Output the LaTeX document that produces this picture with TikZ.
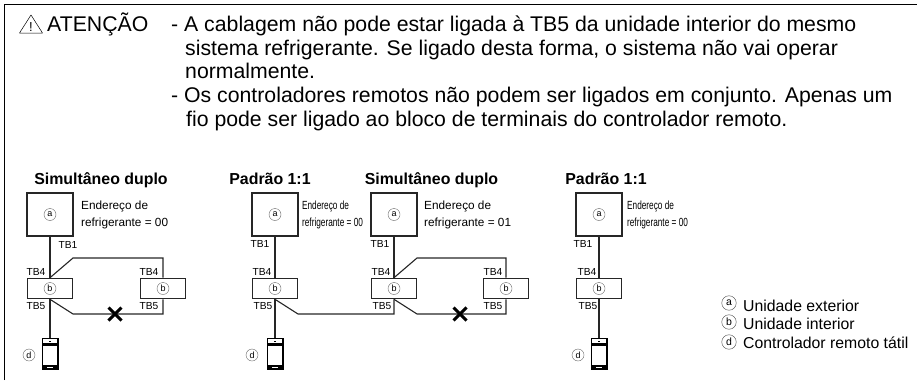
\documentclass[tikz,border=0pt]{standalone}
\usepackage{fontspec}
\setmainfont{Liberation Sans}
\usetikzlibrary{calc}
\tikzset{
  x=1pt,y=-1pt,
  wire/.style={line width=1.1pt,draw=black!85},
  frameline/.style={line width=1.8pt,draw=black},
  unitA/.style={draw=black!85,line width=1.1pt,minimum width=46pt,minimum height=43pt,inner sep=0pt},
  unitB/.style={draw=black!85,line width=1.1pt,minimum width=45pt,minimum height=20.5pt,inner sep=0pt},
  mark circ/.style={circle,draw=black!60,line width=0.4pt,minimum size=12pt,inner sep=0pt,font=\fontsize{9}{9}\selectfont},
  leg circ/.style={circle,draw=black!70,line width=0.45pt,minimum size=14.5pt,inner sep=0pt,font=\fontsize{10.5}{10.5}\selectfont},
  body/.style={anchor=base west,inner sep=0pt,font=\fontsize{21.25}{21.25}\selectfont},
  head/.style={anchor=base,inner sep=0pt,font=\fontsize{15.9}{15.9}\selectfont\bfseries},
  note/.style={anchor=base west,inner sep=0pt,font=\fontsize{11.8}{11.8}\selectfont},
  tb/.style={anchor=base,inner sep=0pt,font=\fontsize{10.2}{10.2}\selectfont},
  legend/.style={anchor=base west,inner sep=0pt,font=\fontsize{15.8}{15.8}\selectfont},
  phonebody/.style={draw=none,fill=black,minimum width=17pt,minimum height=32pt,inner sep=0pt},
  crossmark/.style={line width=3pt,draw=black},
}
\newcommand{\rphone}[2]{%
  \node[phonebody] (#1) at (#2) {};
  \fill[white] ($(#1.north west)+(1.6,1.6)$) rectangle ($(#1.north east)+(-1.6,5.6)$);
  \fill[black] ($(#1.north)+(-1,2.8)$) rectangle ($(#1.north)+(1,4.6)$);
  \fill[white] ($(#1.north west)+(1.6,8)$) rectangle ($(#1.south east)+(-1.6,-5.5)$);
  \fill[white] ($(#1.south)+(-3,-3.4)$) rectangle ($(#1.south)+(3,-2.2)$);
}
\newcommand{\xmark}[2]{%
  \coordinate (#1) at (#2);
  \draw[crossmark] ($(#1)+(-6.5,-6.5)$) -- ($(#1)+(6.5,6.5)$);
  \draw[crossmark] ($(#1)+(-6.5,6.5)$) -- ($(#1)+(6.5,-6.5)$);
}
\begin{document}
\begin{tikzpicture}
\useasboundingbox (0,0) rectangle (917,380);
\coordinate (fb) at (4.5,380);
\coordinate (fc) at (4.5,4.5);
\coordinate (fr) at (917,4.5);
\draw[frameline] (fb) -- (fc) -- (fr);
% warning
\coordinate (t1) at (19.5,33);
\coordinate (t2) at (42.5,33);
\coordinate (t3) at (31,15);
\draw[line width=0.5pt,line join=round] (t1) -- (t2) -- (t3) -- cycle;
\node[anchor=base,inner sep=0pt,font=\fontsize{13}{13}\selectfont] (tmark) at (31,31.5) {!};
\node[body] (att) at (47,31) {ATENÇÃO};
\node[body] (l1) at (171,31) {- A cablagem não pode estar ligada à TB5 da unidade interior do mesmo};
\node[body] (l2) at (185,55) {sistema refrigerante. Se ligado desta forma, o sistema não vai operar};
\node[body] (l3) at (185,78) {normalmente.};
\node[body] (l4) at (171,102.5) {- Os controladores remotos não podem ser ligados em conjunto. Apenas um};
\node[body] (l5) at (186,126) {fio pode ser ligado ao bloco de terminais do controlador remoto.};
% headings
\node[head] (h1) at (101,184) {Simultâneo duplo};
\node[head] (h2) at (270,184) {Padrão 1:1};
\node[head] (h3) at (431.5,184) {Simultâneo duplo};
\node[head] (h4) at (606,184) {Padrão 1:1};
% units
\node[unitA] (a1) at (50,214.5) {};
\node[unitA] (a2) at (275,214.5) {};
\node[unitA] (a3) at (394,214.5) {};
\node[unitA] (a4) at (599,214.5) {};
\node[unitB] (b1) at (50,288.5) {};
\node[unitB] (b1r) at (163,288.5) {};
\node[unitB] (b2) at (275,288.5) {};
\node[unitB] (b3) at (394,288.5) {};
\node[unitB] (b3r) at (506,288.5) {};
\node[unitB] (b4) at (599,288.5) {};
\rphone{p1}{50,354}
\rphone{p2}{275,354}
\rphone{p4}{599,354}
\node[mark circ] at (a1) {a};
\node[mark circ] at (a2) {a};
\node[mark circ] at (a3) {a};
\node[mark circ] at (a4) {a};
\node[mark circ] at (b1) {b};
\node[mark circ] at (b1r) {b};
\node[mark circ] at (b2) {b};
\node[mark circ] at (b3) {b};
\node[mark circ] at (b3r) {b};
\node[mark circ] at (b4) {b};
\node[mark circ] (d1) at (29,355) {d};
\node[mark circ] (d2) at (252,355) {d};
\node[mark circ] (d4) at (578,355) {d};
% stems
\draw[wire] (a1.south) -- (b1.north);
\draw[wire] (b1.south) -- (p1.north);
\draw[wire] (a2.south) -- (b2.north);
\draw[wire] (b2.south) -- (p2.north);
\draw[wire] (a3.south) -- (b3.north);
\draw[wire] (a4.south) -- (b4.north);
\draw[wire] (b4.south) -- (p4.north);
% branch wires
\coordinate (u1) at (73,258); \coordinate (u1r) at (163,258);
\coordinate (v1) at (73,314); \coordinate (v1r) at (163,314);
\draw[wire] (b1.north) -- (u1) -- (u1r) -- (b1r.north);
\draw[wire] (b1.south) -- (v1) -- (v1r) -- (b1r.south);
\coordinate (v2) at (298,314); \coordinate (v2r) at (394,314);
\draw[wire] (b2.south) -- (v2) -- (v2r) -- (b3.south);
\coordinate (u3) at (417,258); \coordinate (u3r) at (506,258);
\coordinate (v3) at (417,314); \coordinate (v3r) at (506,314);
\draw[wire] (b3.north) -- (u3) -- (u3r) -- (b3r.north);
\draw[wire] (b3.south) -- (v3) -- (v3r) -- (b3r.south);
\xmark{x1}{115,314}
\xmark{x3}{460,314}
% TB labels
\node[tb] at (68,248) {TB1};
\node[tb] (t) at (36,275) {TB4};
\node[tb] at (36,309) {TB5};
\node[tb] at (149,275) {TB4};
\node[tb] at (149,309) {TB5};
\node[tb] at (260,247) {TB1};
\node[tb] at (262,275) {TB4};
\node[tb] at (263,309) {TB5};
\node[tb] at (380,247) {TB1};
\node[tb] at (381,275) {TB4};
\node[tb] at (382,309) {TB5};
\node[tb] at (493,275) {TB4};
\node[tb] at (493,309) {TB5};
\node[tb] at (583,247) {TB1};
\node[tb] at (587,275) {TB4};
\node[tb] at (588,309) {TB5};
% address notes
\node[note] at (81,209) {Endereço de};
\node[note] at (81,226) {refrigerante = 00};
\node[note,xscale=0.7] at (302,209) {Endereço de};
\node[note,xscale=0.7] at (302,226) {refrigerante = 00};
\node[note] at (424,209) {Endereço de};
\node[note] at (424,226) {refrigerante = 01};
\node[note,xscale=0.7] at (627,209) {Endereço de};
\node[note,xscale=0.7] at (627,226) {refrigerante = 00};
% legend
\node[leg circ] (la) at (729,303) {a};
\node[leg circ] (lb) at (729,322) {b};
\node[leg circ] (ld) at (729,342) {d};
\node[legend] at (743,311) {Unidade exterior};
\node[legend] at (743,329) {Unidade interior};
\node[legend] at (743,348) {Controlador remoto tátil};
\end{tikzpicture}
\end{document}
